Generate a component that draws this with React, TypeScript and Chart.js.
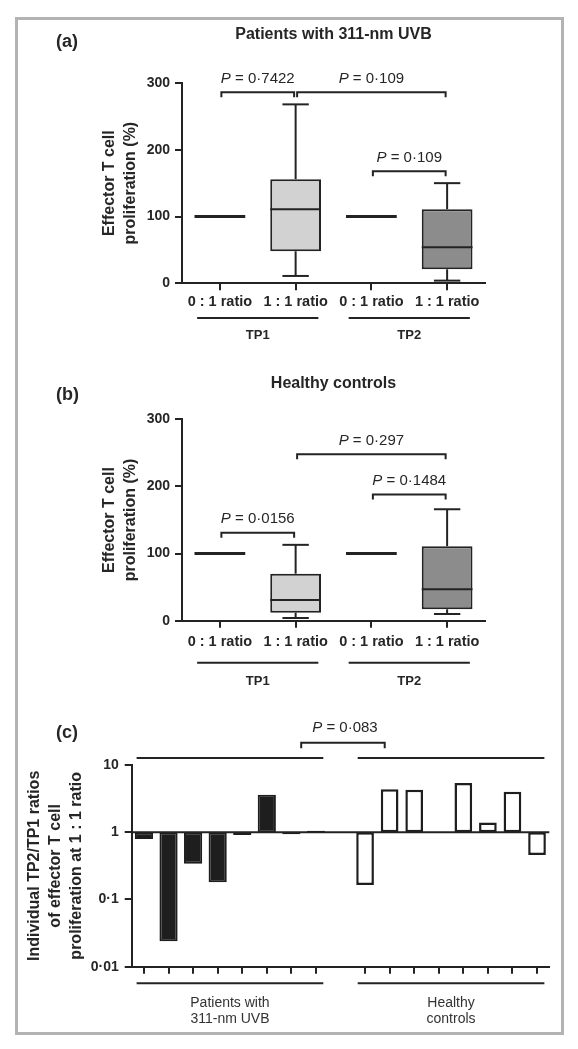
import React, { useEffect, useRef } from 'react';
import { Chart, registerables } from 'chart.js';

Chart.register(...registerables);

const FONT = 'Arial, "Liberation Sans", Helvetica, sans-serif';
const INK = '#232323';
const TEXT = '#262626';

// ---------------- Panels (a) and (b): box plots ----------------
const boxCategories = ['0 : 1 ratio', '1 : 1 ratio', '0 : 1 ratio', '1 : 1 ratio'];
const boxGroups = ['TP1', 'TP2'];
const boxGroupStart = [0, 2];
const boxGroupEnd = [1, 3];
const boxTickValues = [0, 100, 200, 300];
const boxFill = ['#d2d2d2', '#d2d2d2', '#8c8c8c', '#8c8c8c'];

// (a) Patients with 311-nm UVB
const patientsLow = [100, 11, 100, 4];
const patientsQ1 = [100, 48, 100, 21];
const patientsMedian = [100, 111, 100, 54];
const patientsQ3 = [100, 156, 100, 111];
const patientsHigh = [100, 268, 100, 150];
const patientsBracketFrom = [0, 1, 2];
const patientsBracketTo = [1, 3, 3];
const patientsBracketLevel = [286, 286, 168];
const patientsBracketP = ['0·7422', '0·109', '0·109'];

// (b) Healthy controls
const controlsLow = [100, 4, 100, 10];
const controlsQ1 = [100, 12, 100, 17];
const controlsMedian = [100, 31, 100, 47];
const controlsQ3 = [100, 70, 100, 111];
const controlsHigh = [100, 113, 100, 166];
const controlsBracketFrom = [0, 1, 2];
const controlsBracketTo = [1, 3, 3];
const controlsBracketLevel = [131, 248, 188];
const controlsBracketP = ['0·0156', '0·297', '0·1484'];

// ---------------- Panel (c): TP2/TP1 ratios (log scale) ----------------
const ratioSubjects = ['P1', 'P2', 'P3', 'P4', 'P5', 'P6', 'P7', 'P8', '', 'C1', 'C2', 'C3', 'C4', 'C5', 'C6', 'C7', 'C8'];
const patientRatios = [0.79, 0.024, 0.34, 0.18, 0.91, 3.6, 0.93, 1.05];
const controlRatios = [0.164, 4.36, 4.3, 0.97, 5.4, 1.39, 4.0, 0.46];
const ratioTicks = [0.01, 0.1, 1, 10];
const ratioTickLabels = ['0·01', '0·1', '1', '10'];
const ratioGroupStart = [0, 9];
const ratioGroupEnd = [7, 16];
const ratioGroupText = [['Patients with', '311-nm UVB'], ['Healthy', 'controls']];
const ratioP = '0·083';

function line(ctx: CanvasRenderingContext2D, x1: number, y1: number, x2: number, y2: number) {
  ctx.beginPath();
  ctx.moveTo(x1, y1);
  ctx.lineTo(x2, y2);
  ctx.stroke();
}

function drawPText(ctx: CanvasRenderingContext2D, cx: number, cy: number, value: string, size: number) {
  const rest = ' = ' + value;
  ctx.font = `italic ${size}px ${FONT}`;
  const wP = ctx.measureText('P').width;
  ctx.font = `${size}px ${FONT}`;
  const wR = ctx.measureText(rest).width;
  const x0 = cx - (wP + wR) / 2;
  ctx.textAlign = 'left';
  ctx.textBaseline = 'middle';
  ctx.fillStyle = TEXT;
  ctx.font = `italic ${size}px ${FONT}`;
  ctx.fillText('P', x0, cy);
  ctx.font = `${size}px ${FONT}`;
  ctx.fillText(rest, x0 + wP, cy);
}

type BoxPanel = {
  low: number[]; q1: number[]; median: number[]; q3: number[]; high: number[];
  bFrom: number[]; bTo: number[]; bLevel: number[]; bP: string[];
  title: string; letter: string;
  padTop: number; canvasH: number; axisY: number;
  titleY: number; letterY: number; tickPad: number;
  groupLineOff: number; groupTextOff: number;
};

function boxPlugin(p: BoxPanel) {
  return {
    id: 'boxExtras',
    afterDatasetsDraw(chart: any) {
      const { ctx } = chart;
      const ys = chart.scales.y;
      const meta = chart.getDatasetMeta(0);
      ctx.save();
      ctx.strokeStyle = INK;
      ctx.lineCap = 'butt';
      meta.data.forEach((el: any, i: number) => {
        const cx = el.x;
        const half = el.width / 2;
        const capHalf = el.width * 0.26;
        const yLow = ys.getPixelForValue(p.low[i]);
        const yQ1 = ys.getPixelForValue(p.q1[i]);
        const yMed = ys.getPixelForValue(p.median[i]);
        const yQ3 = ys.getPixelForValue(p.q3[i]);
        const yHigh = ys.getPixelForValue(p.high[i]);
        ctx.lineWidth = 2;
        if (p.high[i] > p.q3[i]) {
          line(ctx, cx, yQ3, cx, yHigh);
          line(ctx, cx - capHalf, yHigh, cx + capHalf, yHigh);
        }
        if (p.low[i] < p.q1[i]) {
          line(ctx, cx, yQ1, cx, yLow);
          line(ctx, cx - capHalf, yLow, cx + capHalf, yLow);
        }
        ctx.lineWidth = p.q1[i] === p.q3[i] ? 3 : 2;
        line(ctx, cx - half, yMed, cx + half, yMed);
      });
      ctx.restore();
    },
    afterDraw(chart: any) {
      const { ctx, chartArea } = chart;
      const xs = chart.scales.x;
      const ys = chart.scales.y;
      ctx.save();
      // title & panel letter
      ctx.fillStyle = TEXT;
      ctx.textBaseline = 'middle';
      ctx.textAlign = 'center';
      ctx.font = `bold 16px ${FONT}`;
      ctx.fillText(p.title, (chartArea.left + chartArea.right) / 2, p.titleY);
      ctx.textAlign = 'left';
      ctx.font = `bold 18px ${FONT}`;
      ctx.fillText(p.letter, 56, p.letterY);
      // brackets
      ctx.strokeStyle = INK;
      ctx.lineWidth = 2;
      p.bFrom.forEach((from, i) => {
        const x1 = xs.getPixelForValue(from) + 1.5;
        const x2 = xs.getPixelForValue(p.bTo[i]) - 1.5;
        const yb = ys.getPixelForValue(p.bLevel[i]);
        ctx.beginPath();
        ctx.moveTo(x1, yb + 5);
        ctx.lineTo(x1, yb);
        ctx.lineTo(x2, yb);
        ctx.lineTo(x2, yb + 5);
        ctx.stroke();
        drawPText(ctx, (x1 + x2) / 2, yb - 13.5, p.bP[i], 15);
      });
      // group underlines and labels
      const catW = xs.getPixelForValue(1) - xs.getPixelForValue(0);
      boxGroups.forEach((g, i) => {
        const xa = xs.getPixelForValue(boxGroupStart[i]) - catW * 0.3;
        const xb = xs.getPixelForValue(boxGroupEnd[i]) + catW * 0.3;
        const yl = chartArea.bottom + p.groupLineOff;
        ctx.lineWidth = 2;
        line(ctx, xa, yl, xb, yl);
        ctx.textAlign = 'center';
        ctx.font = `bold 13px ${FONT}`;
        ctx.fillText(g, (xa + xb) / 2, chartArea.bottom + p.groupTextOff);
      });
      ctx.restore();
    },
  };
}

function gridOpts() {
  return { offset: false, drawOnChartArea: false, drawTicks: true, tickLength: 7, color: INK, lineWidth: 2 };
}

function boxConfig(p: BoxPanel): any {
  return {
    type: 'bar',
    data: {
      labels: boxCategories,
      datasets: [{
        data: p.q1.map((q, i) => [q, p.q3[i]]),
        backgroundColor: boxFill,
        borderColor: INK,
        borderWidth: 2,
        borderSkipped: false,
        barPercentage: 0.67,
        categoryPercentage: 1,
      }],
    },
    options: {
      responsive: false,
      animation: false,
      devicePixelRatio: 1,
      layout: { padding: { left: 0, right: 93, top: p.padTop, bottom: 0 } },
      plugins: { legend: { display: false }, tooltip: { enabled: false } },
      scales: {
        x: {
          type: 'category',
          offset: true,
          grid: gridOpts(),
          border: { display: true, color: INK, width: 2 },
          ticks: { font: { family: FONT, size: 14.5, weight: 'bold' }, color: TEXT, padding: p.tickPad, maxRotation: 0, autoSkip: false },
          afterFit: (s: any) => { s.height = p.canvasH - p.axisY; },
        },
        y: {
          type: 'linear',
          min: 0,
          max: 300,
          afterBuildTicks: (s: any) => { s.ticks = boxTickValues.map((v) => ({ value: v })); },
          grid: gridOpts(),
          border: { display: true, color: INK, width: 2 },
          ticks: { font: { family: FONT, size: 14, weight: 'bold' }, color: TEXT, padding: 5 },
          title: {
            display: true,
            text: ['Effector T cell', 'proliferation (%)'],
            font: { family: FONT, size: 16, weight: 'bold', lineHeight: 1.3 },
            color: TEXT,
            padding: { top: 99, bottom: 0 },
          },
          afterFit: (s: any) => { s.width = 182; },
        },
      },
    },
    plugins: [boxPlugin(p)],
  };
}

const ratioPlugin = {
  id: 'ratioExtras',
  afterDatasetsDraw(chart: any) {
    const { ctx, chartArea } = chart;
    const y1 = chart.scales.y.getPixelForValue(1);
    ctx.save();
    ctx.strokeStyle = INK;
    ctx.lineWidth = 2;
    line(ctx, chartArea.left, y1, chartArea.right, y1);
    ctx.restore();
  },
  afterDraw(chart: any) {
    const { ctx, chartArea } = chart;
    const xs = chart.scales.x;
    ctx.save();
    ctx.fillStyle = TEXT;
    ctx.strokeStyle = INK;
    ctx.textBaseline = 'middle';
    ctx.textAlign = 'left';
    ctx.font = `bold 18px ${FONT}`;
    ctx.fillText('(c)', 56, 43);
    const catW = xs.getPixelForValue(1) - xs.getPixelForValue(0);
    ctx.lineWidth = 2;
    ratioGroupStart.forEach((s, i) => {
      const xa = xs.getPixelForValue(s) - catW * 0.3;
      const xb = xs.getPixelForValue(ratioGroupEnd[i]) + catW * 0.3;
      const yTop = chartArea.top - 7;
      const yBot = chartArea.bottom + 16.6;
      line(ctx, xa, yTop, xb, yTop);
      line(ctx, xa, yBot, xb, yBot);
      ctx.textAlign = 'center';
      ctx.font = `14px ${FONT}`;
      ctx.fillStyle = '#333';
      ratioGroupText[i].forEach((t, k) => {
        ctx.fillText(t, (xa + xb) / 2, chartArea.bottom + 36.6 + k * 16);
      });
    });
    // bracket between groups
    const bx1 = xs.getPixelForValue(6.4);
    const bx2 = xs.getPixelForValue(9.8);
    const by = chartArea.top - 22.3;
    ctx.beginPath();
    ctx.moveTo(bx1, by + 5.5);
    ctx.lineTo(bx1, by);
    ctx.lineTo(bx2, by);
    ctx.lineTo(bx2, by + 5.5);
    ctx.stroke();
    drawPText(ctx, (bx1 + bx2) / 2 + 2, by - 14.4, ratioP, 15);
    ctx.restore();
  },
};

function ratioConfig(): any {
  const nPat = patientRatios.length;
  const patientData = ratioSubjects.map((_, i) => (i < nPat ? [1, patientRatios[i]] : null));
  const controlData = ratioSubjects.map((_, i) => (i > nPat ? [1, controlRatios[i - nPat - 1]] : null));
  return {
    type: 'bar',
    data: {
      labels: ratioSubjects,
      datasets: [
        {
          data: patientData,
          backgroundColor: '#1e1e1e',
          borderColor: '#1e1e1e',
          borderWidth: 2,
          borderSkipped: false,
          grouped: false,
          barPercentage: 0.74,
          categoryPercentage: 1,
        },
        {
          data: controlData,
          backgroundColor: '#ffffff',
          borderColor: '#1e1e1e',
          borderWidth: 2.5,
          borderSkipped: false,
          grouped: false,
          barPercentage: 0.72,
          categoryPercentage: 1,
        },
      ],
    },
    options: {
      responsive: false,
      animation: false,
      devicePixelRatio: 1,
      layout: { padding: { left: 0, right: 28.7, top: 75, bottom: 0 } },
      plugins: { legend: { display: false }, tooltip: { enabled: false } },
      scales: {
        x: {
          type: 'category',
          offset: true,
          grid: { ...gridOpts(), color: (c: any) => (ratioSubjects[c.index] === '' ? 'rgba(0,0,0,0)' : INK) },
          border: { display: true, color: INK, width: 2 },
          ticks: { display: false },
          afterFit: (s: any) => { s.height = 359 - 276.7; },
        },
        y: {
          type: 'logarithmic',
          min: 0.01,
          max: 10,
          afterBuildTicks: (s: any) => { s.ticks = ratioTicks.map((v) => ({ value: v })); },
          grid: gridOpts(),
          border: { display: true, color: INK, width: 2 },
          ticks: {
            font: { family: FONT, size: 14, weight: 'bold' },
            color: TEXT,
            padding: 6,
            callback: (v: number) => {
              const k = ratioTicks.indexOf(v);
              return k >= 0 ? ratioTickLabels[k] : '';
            },
          },
          title: {
            display: true,
            text: ['Individual TP2/TP1 ratios', 'of effector T cell', 'proliferation at 1 : 1 ratio'],
            font: { family: FONT, size: 16, weight: 'bold', lineHeight: 1.3 },
            color: TEXT,
            padding: { top: 24.6, bottom: 0 },
          },
          afterFit: (s: any) => { s.width = 131.7; },
        },
      },
    },
    plugins: [ratioPlugin],
  };
}

const panelA: BoxPanel = {
  low: patientsLow, q1: patientsQ1, median: patientsMedian, q3: patientsQ3, high: patientsHigh,
  bFrom: patientsBracketFrom, bTo: patientsBracketTo, bLevel: patientsBracketLevel, bP: patientsBracketP,
  title: 'Patients with 311-nm UVB', letter: '(a)',
  padTop: 83, canvasH: 360, axisY: 283.3,
  titleY: 35, letterY: 42, tickPad: 3.3,
  groupLineOff: 34.7, groupTextOff: 51.7,
};

const panelB: BoxPanel = {
  low: controlsLow, q1: controlsQ1, median: controlsMedian, q3: controlsQ3, high: controlsHigh,
  bFrom: controlsBracketFrom, bTo: controlsBracketTo, bLevel: controlsBracketLevel, bP: controlsBracketP,
  title: 'Healthy controls', letter: '(b)',
  padTop: 59.3, canvasH: 330, axisY: 260.7,
  titleY: 23.8, letterY: 35, tickPad: 5.6,
  groupLineOff: 42, groupTextOff: 61,
};

export default function App() {
  const refA = useRef<HTMLCanvasElement>(null);
  const refB = useRef<HTMLCanvasElement>(null);
  const refC = useRef<HTMLCanvasElement>(null);

  useEffect(() => {
    const charts: Chart[] = [];
    if (refA.current) charts.push(new Chart(refA.current, boxConfig(panelA)));
    if (refB.current) charts.push(new Chart(refB.current, boxConfig(panelB)));
    if (refC.current) charts.push(new Chart(refC.current, ratioConfig()));
    return () => charts.forEach((c) => c.destroy());
  }, []);

  return (
    <div style={{ position: 'absolute', left: 0, top: 0, width: 578, height: 1049, background: '#ffffff', overflow: 'hidden' }}>
      <div style={{ position: 'absolute', left: 15, top: 17, width: 549, height: 1018, border: '3px solid #b3b3b3', boxSizing: 'border-box' }} />
      <canvas ref={refA} width={578} height={360} style={{ position: 'absolute', left: 0, top: 0 }} />
      <canvas ref={refB} width={578} height={330} style={{ position: 'absolute', left: 0, top: 360 }} />
      <canvas ref={refC} width={578} height={359} style={{ position: 'absolute', left: 0, top: 690 }} />
    </div>
  );
}
